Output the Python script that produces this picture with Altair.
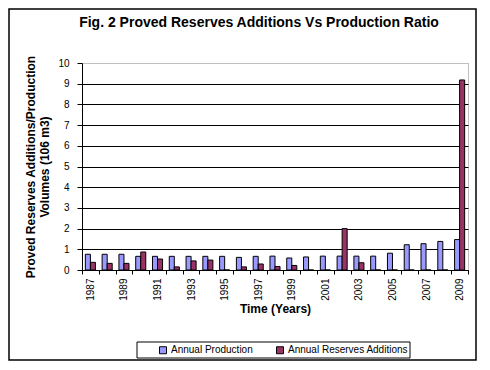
import altair as alt
import pandas as pd

years = list(range(1987, 2010))
production = [0.76, 0.76, 0.76, 0.66, 0.66, 0.66, 0.66, 0.66, 0.66, 0.61, 0.66, 0.67,
              0.58, 0.63, 0.67, 0.67, 0.67, 0.67, 0.81, 1.22, 1.27, 1.38, 1.47]
reserves = [0.37, 0.32, 0.32, 0.87, 0.53, 0.15, 0.44, 0.48, 0.0, 0.15, 0.29, 0.17,
            0.22, 0.0, 0.0, 2.0, 0.35, 0.0, 0.0, 0.0, 0.0, 0.0, 9.18]
series_names = ["Annual Production", "Annual Reserves Additions"]
colors = ["#9999FF", "#993366"]
y_ticks = list(range(0, 11))

df = pd.DataFrame({
    "Year": years * 2,
    "Series": [series_names[0]] * len(years) + [series_names[1]] * len(years),
    "Value": production + reserves,
})

FONT = "Liberation Sans"

bars = alt.Chart(df).mark_bar(stroke="black", strokeWidth=1).encode(
    x=alt.X(
        "Year:O",
        title="Time (Years)",
        scale=alt.Scale(paddingInner=0, paddingOuter=0),
        axis=alt.Axis(
            tickBand="extent",
            labelAngle=270,
            labelAlign="right",
            labelBaseline="middle",
            labelExpr="datum.value % 2 == 1 ? datum.label : ''",
            tickSize=4,
            labelPadding=4,
            titlePadding=3,
            domainColor="black",
            tickColor="black",
            grid=False,
        ),
    ),
    xOffset=alt.XOffset(
        "Series:N",
        sort=series_names,
        scale=alt.Scale(domain=series_names, paddingInner=0, paddingOuter=0.667),
    ),
    y=alt.Y(
        "Value:Q",
        scale=alt.Scale(domain=[0, 10], nice=False),
        axis=alt.Axis(
            values=y_ticks,
            title=["Proved Reserves Additions/Production", "Volumes (106 m3)"],
            tickSize=5,
            labelPadding=8,
            titlePadding=6,
            domainColor="black",
            tickColor="black",
            grid=True,
            gridColor={"condition": {"test": "datum.value === 10", "value": "transparent"}, "value": "black"},
            gridWidth=1,
        ),
    ),
    color=alt.Color(
        "Series:N",
        scale=alt.Scale(domain=series_names, range=colors),
        legend=alt.Legend(
            title=None,
            orient="none",
            direction="horizontal",
            legendX=76,
            legendY=282,
            symbolType="square",
            symbolSize=49,
            symbolStrokeColor="black",
            symbolStrokeWidth=1,
            symbolOpacity=1,
            labelFontSize=10,
            labelOffset=3,
            columnPadding=21,
            padding=0,
        ),
    ),
)

frame = alt.Chart(alt.Data(values=[{"k": 1}])).mark_rect(
    fillOpacity=0, stroke="black", strokeWidth=1.5
).encode(
    x=alt.value(-73), x2=alt.value(394), y=alt.value(-54), y2=alt.value(297)
)

legend_box = alt.Chart(alt.Data(values=[{"k": 1}])).mark_rect(
    fillOpacity=0, stroke="black", strokeWidth=1
).encode(
    x=alt.value(55), x2=alt.value(328), y=alt.value(279), y2=alt.value(295)
)

chart = alt.layer(bars, frame, legend_box).properties(
    width=386,
    height=207,
    autosize=alt.AutoSizeParams(type="none"),
    padding={"left": 74, "top": 55, "right": 14, "bottom": 95},
    title=alt.TitleParams(
        "Fig. 2 Proved Reserves Additions Vs Production Ratio",
        fontSize=14,
        fontWeight="bold",
        font=FONT,
        frame="group",
        anchor="middle",
        baseline="alphabetic",
        dx=-16,
        dy=43,
        offset=10,
    ),
).configure(
    font=FONT,
).configure_axis(
    labelFont=FONT,
    labelFontSize=10,
    labelColor="black",
    titleFont=FONT,
    titleFontSize=12,
    titleFontWeight="bold",
    titleColor="black",
).configure_legend(
    labelFont=FONT,
    labelColor="black",
).configure_view(
    stroke="#808080",
    strokeDash=[1, 1],
    strokeWidth=1,
)

chart.save("out.html", embed_options={"renderer": "svg", "actions": False})
